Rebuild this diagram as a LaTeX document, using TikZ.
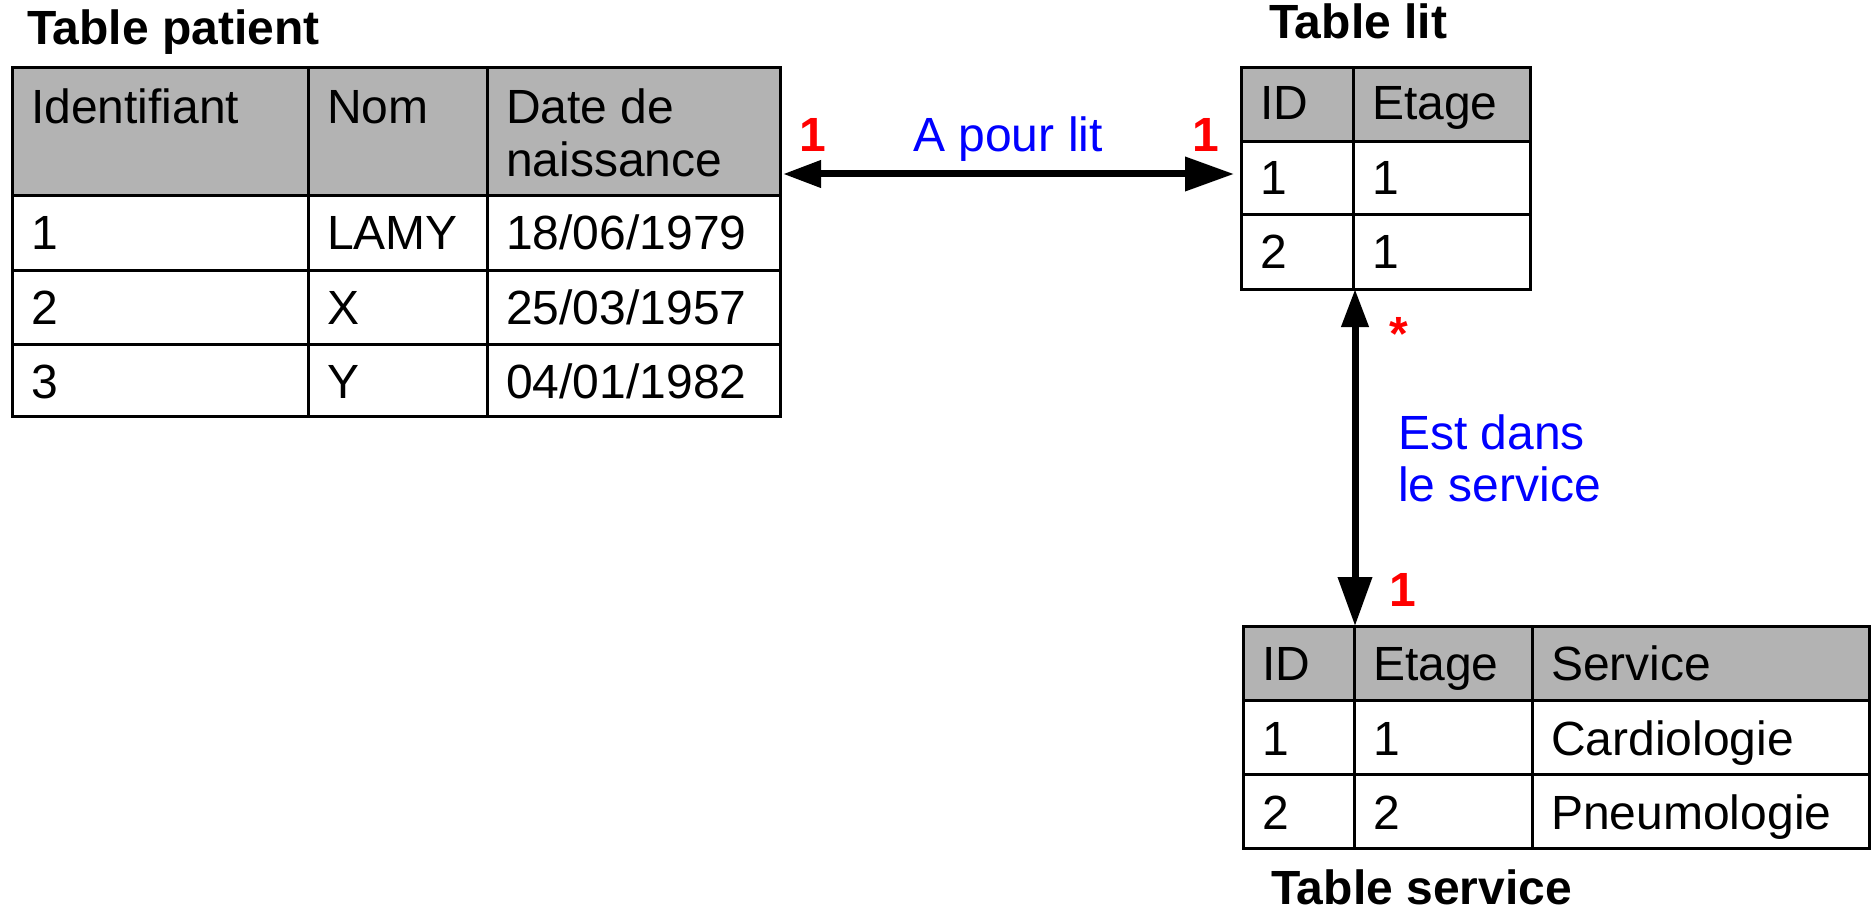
\documentclass[tikz,border=0pt]{standalone}
\usepackage{fontspec}
\setmainfont{Liberation Sans}
\usetikzlibrary{arrows.meta}
\definecolor{hdr}{RGB}{179,179,179}
\definecolor{lblue}{RGB}{0,0,255}
\definecolor{lred}{RGB}{255,0,0}
\newcommand\fsz{\fontsize{48}{52}\selectfont}
\tikzset{
  gridline/.style={line width=3pt, line cap=rect},
  txt/.style={anchor=base west, inner sep=0pt, font=\fsz},
  ttl/.style={anchor=base west, inner sep=0pt, font=\fsz\bfseries},
  card/.style={anchor=base, inner sep=0pt, font=\fsz\bfseries, text=lred},
  rel/.style={inner sep=0pt, font=\fsz, text=lblue},
  link/.style={line width=7pt, {Triangle[length=38pt,width=26pt]}-{Triangle[length=49pt,width=33pt]}}
}
\begin{document}
\begin{tikzpicture}[x=1pt,y=-1pt]
\useasboundingbox (0,0) rectangle (1871,912);
% ---------- Table patient ----------
\fill[hdr] (12,68) rectangle (780,196);
\foreach \y in {68,196,270,344,416} \draw[gridline] (12,\y) -- (780,\y);
\foreach \x in {12,308,487,780} \draw[gridline] (\x,68) -- (\x,416);
\node[ttl] (tpat) at (27,45) {Table patient};
\node[txt] (ph1) at (31,124) {Identifiant};
\node[txt] (ph2) at (327,124) {Nom};
\node[txt] (ph3a) at (506,124) {Date de};
\node[txt] (ph3b) at (506,177) {naissance};
\node[txt] (p11) at (31,250) {1};
\node[txt] (p12) at (327,250) {LAMY};
\node[txt] (p13) at (506,250) {18/06/1979};
\node[txt] (p21) at (31,324) {2};
\node[txt] (p22) at (327,324) {X};
\node[txt] (p23) at (506,324) {25/03/1957};
\node[txt] (p31) at (31,398) {3};
\node[txt] (p32) at (327,398) {Y};
\node[txt] (p33) at (506,398) {04/01/1982};
% ---------- Table lit ----------
\fill[hdr] (1241,68) rectangle (1530,142);
\foreach \y in {68,142,215,289} \draw[gridline] (1241,\y) -- (1530,\y);
\foreach \x in {1241,1353,1530} \draw[gridline] (\x,68) -- (\x,289);
\node[ttl] (tlit) at (1269,39) {Table lit};
\node[txt] (lh1) at (1260,120) {ID};
\node[txt] (lh2) at (1372,120) {Etage};
\node[txt] (l11) at (1260,195) {1};
\node[txt] (l12) at (1372,195) {1};
\node[txt] (l21) at (1260,268) {2};
\node[txt] (l22) at (1372,268) {1};
% ---------- Table service ----------
\fill[hdr] (1243,626) rectangle (1869,700);
\foreach \y in {626,700,774,848} \draw[gridline] (1243,\y) -- (1869,\y);
\foreach \x in {1243,1354,1532,1869} \draw[gridline] (\x,626) -- (\x,848);
\node[ttl] (tserv) at (1271,904) {Table service};
\node[txt] (sh1) at (1262,680) {ID};
\node[txt] (sh2) at (1373,680) {Etage};
\node[txt] (sh3) at (1551,680) {Service};
\node[txt] (s11) at (1262,755) {1};
\node[txt] (s12) at (1373,755) {1};
\node[txt] (s13) at (1551,755) {Cardiologie};
\node[txt] (s21) at (1262,829) {2};
\node[txt] (s22) at (1373,829) {2};
\node[txt] (s23) at (1551,829) {Pneumologie};
% ---------- relations ----------
\coordinate (patE) at (783,174);
\coordinate (litW) at (1234,174);
\coordinate (litS) at (1355,289);
\coordinate (servN) at (1355,626);
\draw[link] (patE) -- (litW);
\draw[link] (litS) -- (servN);
\node[card] (c1) at (813,152) {1};
\node[card] (c2) at (1206,152) {1};
\node[rel, anchor=base] (r1) at (1008,152) {A pour lit};
\node[card] (c3) at (1399,350) {*};
\node[card] (c4) at (1403,606) {1};
\node[rel, anchor=base west] (r2a) at (1398,449) {Est dans};
\node[rel, anchor=base west] (r2b) at (1398,501) {le service};
\end{tikzpicture}
\end{document}
